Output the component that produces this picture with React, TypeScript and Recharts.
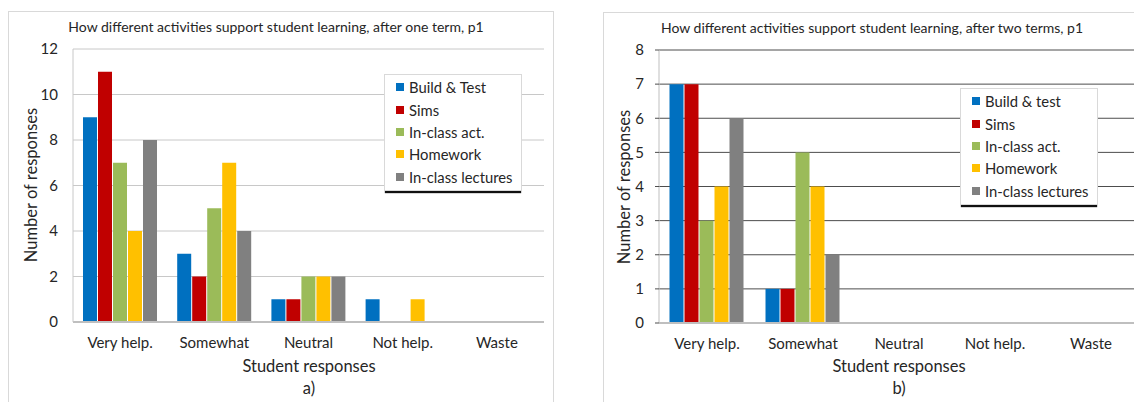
import { Bar, BarChart, CartesianGrid, Legend, XAxis, YAxis } from "recharts";

const FONT = "Lato, 'Open Sans', sans-serif";
const TEXT = "#262626";

const COLORS = ["#0070C0", "#C00000", "#9BBB59", "#FFC000", "#808080"];

const categories = ["Very help.", "Somewhat", "Neutral", "Not help.", "Waste"];

// a) after one term
const namesA = ["Build & Test", "Sims", "In-class act.", "Homework", "In-class lectures"];
const buildA = [9, 3, 1, 1, 0];
const simsA = [11, 2, 1, 0, 0];
const inClassActA = [7, 5, 2, 0, 0];
const homeworkA = [4, 7, 2, 1, 0];
const lecturesA = [8, 4, 2, 0, 0];
const ticksA = [0, 2, 4, 6, 8, 10, 12];

// b) after two terms
const namesB = ["Build & test", "Sims", "In-class act.", "Homework", "In-class lectures"];
const buildB = [7, 1, 0, 0, 0];
const simsB = [7, 1, 0, 0, 0];
const inClassActB = [3, 5, 0, 0, 0];
const homeworkB = [4, 4, 0, 0, 0];
const lecturesB = [6, 2, 0, 0, 0];
const ticksB = [0, 1, 2, 3, 4, 5, 6, 7, 8];

const toRows = (series: number[][]) =>
  categories.map((name, i) => {
    const row: Record<string, string | number> = { name };
    series.forEach((s, k) => (row[`s${k}`] = s[i]));
    return row;
  });

const dataA = toRows([buildA, simsA, inClassActA, homeworkA, lecturesA]);
const dataB = toRows([buildB, simsB, inClassActB, homeworkB, lecturesB]);

function LegendBox({ names }: { names: string[] }) {
  return (
    <div
      style={{
        background: "#fff",
        border: "1px solid #d9d9d9",
        boxShadow: "0 3px 1px -1px #111",
        padding: "1px 8px 2px 11px",
        fontFamily: FONT,
        fontSize: 14.8,
        color: TEXT,
      }}
    >
      {names.map((n, i) => (
        <div key={n} style={{ display: "flex", alignItems: "center", height: 22.4 }}>
          <span style={{ width: 8, height: 8, background: COLORS[i], marginRight: 5, flex: "none" }} />
          <span style={{ whiteSpace: "nowrap" }}>{n}</span>
        </div>
      ))}
    </div>
  );
}

function Overlay({ x, y, size, children, rotate }: { x: number; y: number; size: number; children: React.ReactNode; rotate?: boolean }) {
  return (
    <div
      style={{
        position: "absolute",
        left: x,
        top: y,
        transform: `translate(-50%, -50%)${rotate ? " rotate(-90deg)" : ""}`,
        fontFamily: FONT,
        fontSize: size,
        color: TEXT,
        whiteSpace: "nowrap",
      }}
    >
      {children}
    </div>
  );
}

const tickStyle = { fill: TEXT, fontSize: 15, fontFamily: FONT };

export default function App() {
  return (
    <div style={{ position: "fixed", left: 0, top: 0, width: 1134, height: 402, overflow: "hidden", background: "#fff" }}>
      {/* a) */}
      <div style={{ position: "absolute", left: 8, top: 11, width: 544, height: 420, border: "1px solid #d9d9d9" }} />
      <div style={{ position: "absolute", left: 0, top: 0 }}>
        <BarChart width={560} height={402} data={dataA} margin={{ top: 49, right: 16, bottom: 50, left: 28 }} barCategoryGap={10} barGap={1}>
          <CartesianGrid vertical={false} stroke="#c8c8c8" />
          <XAxis
            dataKey="name"
            tick={tickStyle}
            tickLine={false}
            axisLine={{ stroke: "#bfbfbf", strokeWidth: 2 }}
            tickMargin={9}
            height={30}
            interval={0}
          />
          <YAxis
            domain={[0, 12]}
            ticks={ticksA}
            interval={0}
            tick={tickStyle}
            tickLine={false}
            axisLine={{ stroke: "#c8c8c8" }}
            tickMargin={9}
            width={45}
          />
          <Legend
            layout="vertical"
            align="center"
            verticalAlign="middle"
            wrapperStyle={{ left: 384, top: 74, width: "auto" }}
            content={() => <LegendBox names={namesA} />}
          />
          {namesA.map((n, k) => (
            <Bar key={n} dataKey={`s${k}`} name={n} fill={COLORS[k]} isAnimationActive={false} />
          ))}
        </BarChart>
        <Overlay x={276} y={26} size={14}>How different activities support student learning, after one term, p1</Overlay>
        <Overlay x={31} y={185} size={16.5} rotate>Number of responses</Overlay>
        <Overlay x={309} y={366} size={16.5}>Student responses</Overlay>
        <Overlay x={309} y={388} size={16.5}>a)</Overlay>
      </div>

      {/* b) */}
      <div style={{ position: "absolute", left: 603, top: 12, width: 600, height: 420, border: "1px solid #d9d9d9" }} />
      <div style={{ position: "absolute", left: 570, top: 0 }}>
        <BarChart width={580} height={402} data={dataB} margin={{ top: 50, right: 11, bottom: 49, left: 44 }} barCategoryGap={10.5} barGap={1}>
          <CartesianGrid vertical={false} stroke="#4d4d4d" />
          <XAxis
            dataKey="name"
            tick={tickStyle}
            tickLine={false}
            axisLine={{ stroke: "#bfbfbf", strokeWidth: 2 }}
            tickMargin={9}
            height={30}
            interval={0}
          />
          <YAxis
            domain={[0, 8]}
            ticks={ticksB}
            interval={0}
            tick={tickStyle}
            tickLine={{ stroke: "#4d4d4d" }}
            tickSize={4}
            axisLine={{ stroke: "#bfbfbf" }}
            tickMargin={11}
            width={45}
          />
          <Legend
            layout="vertical"
            align="center"
            verticalAlign="middle"
            wrapperStyle={{ left: 390, top: 88, width: "auto" }}
            content={() => <LegendBox names={namesB} />}
          />
          {namesB.map((n, k) => (
            <Bar key={n} dataKey={`s${k}`} name={n} fill={COLORS[k]} isAnimationActive={false} />
          ))}
        </BarChart>
        <Overlay x={302} y={27} size={14}>How different activities support student learning, after two terms, p1</Overlay>
        <Overlay x={54} y={187} size={16.5} rotate>Number of responses</Overlay>
        <Overlay x={329} y={366} size={16.5}>Student responses</Overlay>
        <Overlay x={329} y={388} size={16.5}>b)</Overlay>
      </div>
    </div>
  );
}
